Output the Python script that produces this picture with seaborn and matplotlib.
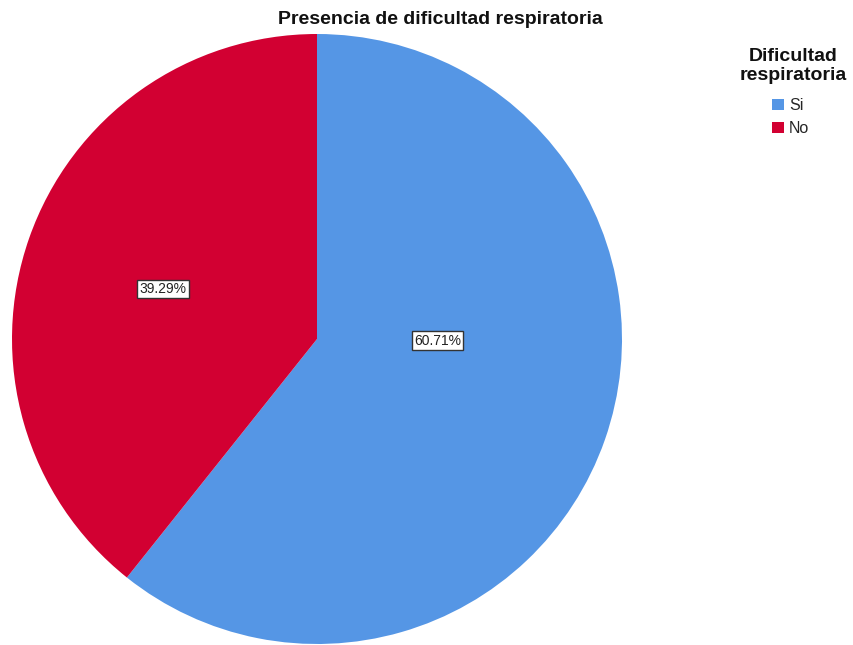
import matplotlib
matplotlib.use("Agg")
import matplotlib.pyplot as plt
import numpy as np
import seaborn as sns
from matplotlib.patches import Patch

sns.set_theme(style="white")
plt.rcParams["font.family"] = ["Liberation Sans", "DejaVu Sans"]

categories = ["Si", "No"]
percentages = [60.71, 39.29]
colors = ["#5596E5", "#D20032"]
label_positions = [(0.395, -0.005), (-0.505, 0.164)]

palette = sns.color_palette(colors)

fig = plt.figure(figsize=(8.54, 6.45), dpi=100)
W, H = 854, 645
cx, cy, r = 317, 339, 305
ax = fig.add_axes([(cx - r) / W, (H - cy - r) / H, 2 * r / W, 2 * r / H])

wedges, _ = ax.pie(percentages, colors=palette, startangle=90, counterclock=False,
                   radius=1.0, wedgeprops=dict(linewidth=0))
ax.set_xlim(-1, 1)
ax.set_ylim(-1, 1)
ax.set_aspect("equal")
ax.axis("off")

for val, (x, y) in zip(percentages, label_positions):
    ax.text(x, y, f"{val:.2f}%", ha="center", va="center", fontsize=10, color="#222222",
            bbox=dict(boxstyle="square,pad=0.15", facecolor="white", edgecolor="#333333", linewidth=1.0))

fig.text(440 / W, 1 - 20 / H, "Presencia de dificultad respiratoria",
         ha="center", va="center", fontsize=14, fontweight="bold", color="#111111")

fig.text(793 / W, 1 - 66 / H, "Dificultad\nrespiratoria", ha="center", va="center",
         fontsize=14, fontweight="bold", color="#111111", linespacing=1.1)

handles = [Patch(facecolor=c, edgecolor="none") for c in palette]
leg = fig.legend(handles, categories, loc="upper left", bbox_to_anchor=(772 / W, 1 - 98 / H),
                 frameon=False, fontsize=11.5, handlelength=0.75, handleheight=0.75,
                 handletextpad=0.3, labelspacing=0.5, borderaxespad=0, borderpad=0)

fig.savefig("out.png", dpi=100, facecolor="white")
